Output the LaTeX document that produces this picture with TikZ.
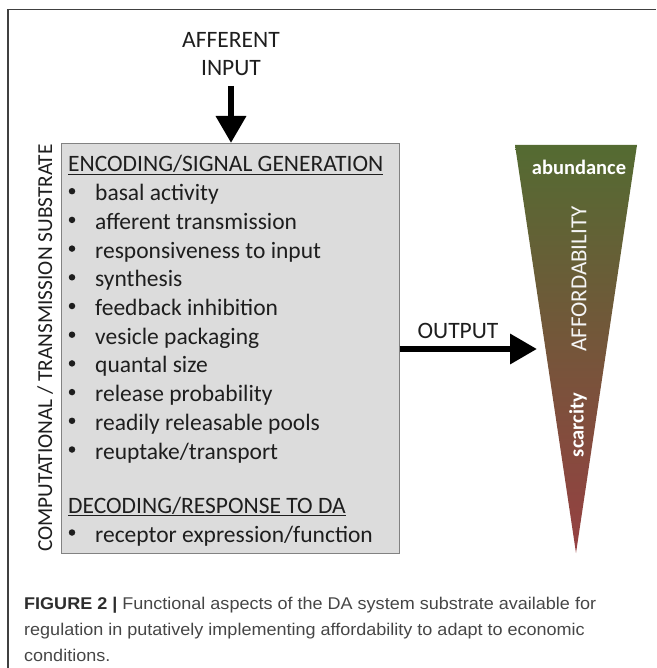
\documentclass[tikz,border=0pt]{standalone}
\usepackage{fontspec}
\setmainfont{Carlito}
\newfontfamily\capfont{Liberation Sans}[FakeStretch=1.06]
\usetikzlibrary{arrows.meta}
\definecolor{boxgray}{RGB}{220,220,220}
\definecolor{boxline}{RGB}{130,130,130}
\definecolor{txtc}{RGB}{30,30,30}
\definecolor{trigreen}{RGB}{84,107,50}
\definecolor{trired}{RGB}{150,64,66}
\definecolor{capc}{RGB}{70,70,70}
\definecolor{capb}{RGB}{45,45,45}
\begin{document}
\begin{tikzpicture}[x=1pt,y=-1pt,
  txt/.style={inner sep=0pt, anchor=base west, text=txtc, font=\fontsize{23.5}{28}\selectfont},
  lbl/.style={inner sep=0pt, anchor=base, text=txtc, font=\fontsize{23.5}{28}\selectfont},
  dot/.style={circle, fill=txtc, inner sep=0pt, minimum size=6.5pt},
  boxst/.style={draw=boxline, line width=1.2pt, fill=boxgray, inner sep=0pt, anchor=north west},
  bigarrow/.style={line width=6.5pt, -{Triangle[length=27pt,width=29pt]}},
  trilbl/.style={inner sep=0pt, text=white, font=\bfseries\fontsize{20.5}{24}\selectfont},
  captxt/.style={inner sep=0pt, anchor=base west, text=capc, font=\capfont\fontsize{17}{20}\selectfont}]
\useasboundingbox (0,0) rectangle (656,668);
\draw[line width=1.5pt, color=black!75] (8,668) -- (8,9.5) -- (656,9.5);
% main box
\node[boxst, minimum width=338pt, minimum height=410pt] (box) at (60.5,143) {};
% afferent input
\node[lbl] (aff) at (231,48) {AFFERENT};
\node[lbl] (inp) at (231,76) {INPUT};
\coordinate (boxtop) at (231,143);
\draw[bigarrow] (231,86) -- (boxtop);
% list
\node[txt] (h1) at (68,172) {\underline{ENCODING/SIGNAL GENERATION}};
\foreach \t [count=\i] in {basal activity, afferent transmission, responsiveness to input, synthesis, feedback inhibition, vesicle packaging, quantal size, release probability, readily releasable pools, reuptake/transport}{
  \node[dot] (b\i) at (72,{172+28.7*\i-9.5}) {};
  \node[txt] (it\i) at (95,{172+28.7*\i}) {\t};
}
\node[txt] (h2) at (68,513) {\underline{DECODING/RESPONSE TO DA}};
\node[dot] (b11) at (72,532.5) {};
\node[txt] (it11) at (95,542) {receptor expression/function};
% side label
\node[lbl, rotate=90, anchor=base, font=\fontsize{21.3}{26}\selectfont] (side) at (52,348) {COMPUTATIONAL / TRANSMISSION SUBSTRATE};
% triangle
\shade[top color=trigreen, bottom color=trired] (515,145) -- (637,145) -- (576,553) -- cycle;
\node[trilbl] (abund) at (579,167) {abundance};
\node[inner sep=0pt, rotate=90, text=white!92!gray, font=\fontsize{23}{27}\selectfont] (aff2) at (579,279) {AFFORDABILITY};
\node[trilbl, rotate=90] (scar) at (578,425) {scarcity};
% output
\coordinate (outtip) at (537,349);
\draw[bigarrow] (box.east |- outtip) -- (outtip);
\node[lbl] (outl) at (458,338) {OUTPUT};
% caption
\node[captxt] (c1) at (24,609.5) {\textcolor{capb}{\textbf{FIGURE 2 |}} Functional aspects of the DA system substrate available for};
\node[captxt] (c2) at (24,635.5) {regulation in putatively implementing affordability to adapt to economic};
\node[captxt] (c3) at (24,661.5) {conditions.};
\end{tikzpicture}
\end{document}
